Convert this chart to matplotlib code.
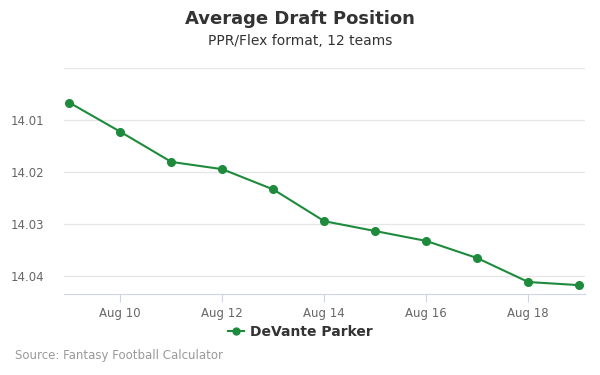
import matplotlib
matplotlib.use("Agg")
import matplotlib.pyplot as plt
import matplotlib.dates as mdates
from datetime import datetime, timedelta

dates = ["2023-08-09", "2023-08-10", "2023-08-11", "2023-08-12", "2023-08-13", "2023-08-14",
         "2023-08-15", "2023-08-16", "2023-08-17", "2023-08-18", "2023-08-19"]
adp = [14.0066, 14.0122, 14.0180, 14.0194, 14.0233, 14.0294,
       14.0313, 14.0332, 14.0365, 14.0411, 14.0417]
player = "DeVante Parker"
yticks = [14.00, 14.01, 14.02, 14.03, 14.04]
ytick_labels = ["", "14.01", "14.02", "14.03", "14.04"]

x = [datetime.strptime(d, "%Y-%m-%d") for d in dates]
green = "#1e8b3c"

fig = plt.figure(figsize=(6, 3.75), dpi=100)
ax = fig.add_axes([64/600, (375-294.3)/375, (585-64)/600, (294.3-68.3)/375])

ax.plot(x, adp, color=green, linewidth=1.5, marker="o", markersize=5.5, label=player, zorder=3)

ax.set_xlim(x[0] - timedelta(days=0.104), x[-1] + timedelta(days=0.112))
ax.set_ylim(14.04346, 14.00)
ax.set_yticks(yticks)
ax.set_yticklabels(ytick_labels)
ax.grid(axis="y", color="#e6e6e6", linewidth=1)
ax.set_axisbelow(True)

ax.xaxis.set_major_locator(mdates.DayLocator(bymonthday=[10, 12, 14, 16, 18]))
ax.xaxis.set_major_formatter(mdates.DateFormatter("%b %d"))

for s in ["top", "right", "left"]:
    ax.spines[s].set_visible(False)
ax.spines["bottom"].set_color("#ccd6eb")
ax.tick_params(axis="y", length=0, labelsize=8.5, labelcolor="#666666", pad=14)
ax.tick_params(axis="x", length=6, color="#ccd6eb", labelsize=8.5, labelcolor="#666666", pad=3)

fig.text(0.5, 1 - 19/375, "Average Draft Position", ha="center", va="center",
         fontsize=13, fontweight="bold", color="#333333")
fig.text(0.5, 1 - 41/375, "PPR/Flex format, 12 teams", ha="center", va="center",
         fontsize=10, color="#333333")

leg = fig.legend(loc="center", bbox_to_anchor=(0.5, 1 - 332/375), frameon=False,
                 prop={"weight": "bold", "size": 10}, handlelength=1.2, handletextpad=0.4,
                 markerscale=0.9)
for t in leg.get_texts():
    t.set_color("#333333")

fig.text(15/600, 1 - 356/375, "Source: Fantasy Football Calculator", ha="left", va="center",
         fontsize=8.5, color="#999999")

fig.savefig("out.png", dpi=100)
